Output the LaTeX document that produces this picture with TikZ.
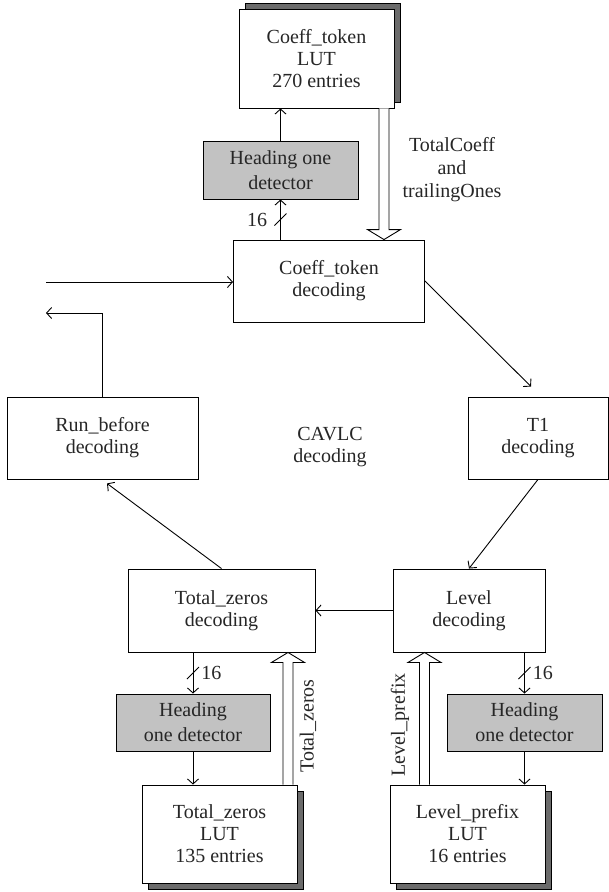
\documentclass[tikz,border=0pt]{standalone}
\usepackage{fontspec}
\setmainfont{Liberation Serif}
\usetikzlibrary{arrows.meta,calc,shadows}
\definecolor{hodgray}{gray}{0.76}
\definecolor{shadowgray}{gray}{0.42}
% hollow (fat) arrow between two named coordinates on one vertical line
\newcommand{\fatarrow}[2]{%
  \draw[fill=white] let \p1=(#1), \p2=(#2), \p3=($(#2)!10pt!(#1)$) in
    (\x1-5pt,\y1) -- (\x1-5pt,\y3) -- (\x1-16.5pt,\y3) -- (\x2,\y2)
    -- (\x1+16.5pt,\y3) -- (\x1+5pt,\y3) -- (\x1+5pt,\y1);}
\begin{document}
\begin{tikzpicture}[x=1pt,y=-1pt,line width=0.9pt,
    >={Straight Barb[length=5pt,width=11pt]}]
    \tikzset{
        txt/.style={font=\fontsize{20}{22}\selectfont, align=center,
            text=black!85, inner sep=1pt},
        box/.style={txt, draw, fill=white, inner sep=0pt},
        hod/.style={box, fill=hodgray, font=\fontsize{20}{25}\selectfont},
        lut/.style={box, minimum width=155pt, minimum height=98pt},
        shadow up/.style={general shadow={shadow xshift=6pt,
            shadow yshift=6pt, fill=shadowgray, draw}},
        shadow down/.style={general shadow={shadow xshift=6pt,
            shadow yshift=-6pt, fill=shadowgray, draw}},
    }
    \useasboundingbox (0,0) rectangle (609,892);
    % Coeff_token part
    \draw(316.5,58.5) node [lut, minimum height=99pt, shadow up]
        (ctlut) {Coeff\_token\\LUT\\270 entries};
    \draw(280.5,170) node [hod, minimum width=155pt, minimum height=58pt]
        (hod1) {Heading one\\detector};
    \draw(329,281) node [box, minimum width=191pt, minimum height=82pt]
        (ctdec) {Coeff\_token\\decoding};
    \draw(452,170) node [txt, font=\fontsize{20}{23}\selectfont]
        (tcto) {TotalCoeff\\and\\trailingOnes};
    % middle row
    \draw(102.5,438) node [box, minimum width=191pt, minimum height=82pt]
        (runb) {Run\_before\\decoding};
    \draw(538,438) node [box, minimum width=140pt, minimum height=82pt]
        (t1) {T1\\decoding};
    \draw(330,447) node [txt] (cavlc) {CAVLC\\decoding};
    % Total_zeros and Level part
    \draw(221.5,610.5) node [box, minimum width=187pt, minimum height=83pt]
        (tzdec) {Total\_zeros\\decoding};
    \draw(469,610.5) node [box, minimum width=152pt, minimum height=83pt]
        (lvdec) {Level\\decoding};
    \draw(193,722.5) node [hod, minimum width=154pt, minimum height=57pt]
        (hod2) {Heading\\one detector};
    \draw(524.5,722.5) node [hod, minimum width=155pt, minimum height=57pt]
        (hod3) {Heading\\one detector};
    \draw(219.5,834) node [lut, shadow down]
        (tzlut) {Total\_zeros\\LUT\\135 entries};
    \draw(467.5,834) node [lut, shadow down]
        (lplut) {Level\_prefix\\LUT\\16 entries};
    \draw(308,726) node [txt, rotate=90] (tzlbl) {Total\_zeros};
    \draw(400,725) node [txt, rotate=90] (lplbl) {Level\_prefix};

    % in and out of the loop
    \coordinate (in) at (46,282);
    \coordinate (out) at (46,313);
    \draw[->] (in) -- (in -| ctdec.west);
    \draw[->] (runb.north) |- (out);

    % plain arrows
    \draw[->] (hod1.south |- ctdec.north) -- coordinate[pos=.5] (s1) (hod1.south);
    \draw[->] (hod1.north) -- (hod1.north |- ctlut.south);
    \draw[->] (ctdec.east) -- ([xshift=-7pt,yshift=10pt]t1.north);
    \draw[->] (t1.south) -- (lvdec.north);
    \draw[->] (lvdec.west) -- (tzdec.east);
    \draw[->] (tzdec.north) -- ([xshift=4.5pt,yshift=-4pt]runb.south);
    \draw[->] (tzdec.south -| hod2.north) -- coordinate[pos=.5] (s2) (hod2.north);
    \draw[->] (hod2.south) -- (hod2.south |- tzlut.north);
    \draw[->] (lvdec.south -| hod3.north) -- coordinate[pos=.5] (s3) (hod3.north);
    \draw[->] (hod3.south) -- (hod3.south |- lplut.north);

    % 16 bit buses
    \foreach \s in {s1,s2,s3}
        \draw (\s) +(-6,6) -- +(6,-6);
    \draw(s1) node [txt, left=12pt] (b1) {16};
    \draw(s2) node [txt, right=7pt] (b2) {16};
    \draw(s3) node [txt, right=7pt] (b3) {16};

    % hollow arrows from the tables
    \coordinate (fa1) at (ctlut.south -| 384,0);
    \coordinate (fa2) at (ctdec.north -| 384,0);
    \coordinate (fb1) at (tzlut.north -| 288,0);
    \coordinate (fb2) at (tzdec.south -| 288,0);
    \coordinate (fc1) at (lplut.north -| 424.5,0);
    \coordinate (fc2) at (lvdec.south -| 424.5,0);
    \fatarrow{fa1}{fa2}
    \fatarrow{fb1}{fb2}
    \fatarrow{fc1}{fc2}
\end{tikzpicture}
\end{document}
